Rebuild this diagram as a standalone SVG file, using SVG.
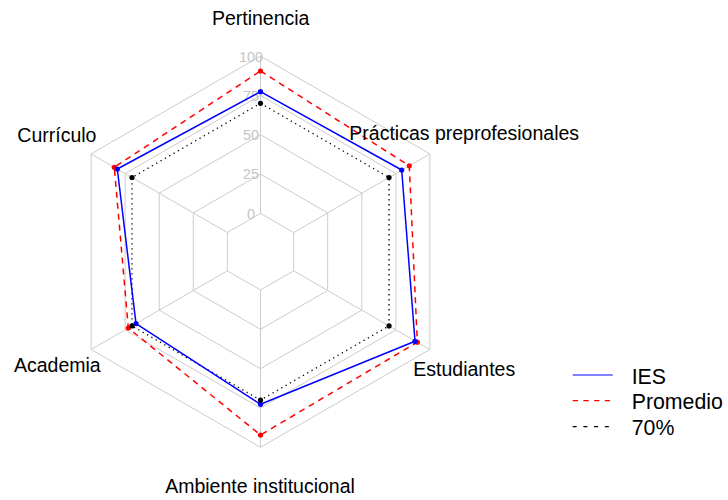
<svg xmlns="http://www.w3.org/2000/svg" width="728" height="500" viewBox="0 0 728 500">
<style>
.grid{fill:none;stroke:#cccccc;stroke-width:1}
.gl{font-family:"Liberation Sans",Arial,sans-serif;font-size:14.4px;fill:#c4c4c4;text-anchor:middle}
.ax{font-family:"Liberation Sans",Arial,sans-serif;font-size:19.5px;fill:#000}
.lg{font-family:"Liberation Sans",Arial,sans-serif;font-size:21.3px;fill:#000}
.ies{fill:none;stroke:#0000ff;stroke-width:1.5;stroke-linejoin:round}
.prom{fill:none;stroke:#ff0000;stroke-width:1.5;stroke-dasharray:6,5}
.p70{fill:none;stroke:#000;stroke-width:1.3;stroke-dasharray:1.3,3.7}
</style>
<rect width="728" height="500" fill="#ffffff"/>
<g id="grid">
<polygon class="grid" points="260.5,213.4 293.67,232.55 293.67,270.85 260.5,290 227.33,270.85 227.33,232.55"/>
<polygon class="grid" points="260.5,174.1 327.7,212.9 327.7,290.5 260.5,329.3 193.3,290.5 193.3,212.9"/>
<polygon class="grid" points="260.5,134.7 361.82,193.2 361.82,310.2 260.5,368.7 159.18,310.2 159.18,193.2"/>
<polygon class="grid" points="260.5,95.4 395.86,173.55 395.86,329.85 260.5,408 125.14,329.85 125.14,173.55"/>
<polygon class="grid" points="260.5,56.1 429.89,153.9 429.89,349.5 260.5,447.3 91.11,349.5 91.11,153.9"/>
<line class="grid" x1="260.5" y1="213.4" x2="260.5" y2="56.1"/>
<line class="grid" x1="293.67" y1="232.55" x2="429.89" y2="153.9"/>
<line class="grid" x1="293.67" y1="270.85" x2="429.89" y2="349.5"/>
<line class="grid" x1="260.5" y1="290" x2="260.5" y2="447.3"/>
<line class="grid" x1="227.33" y1="270.85" x2="91.11" y2="349.5"/>
<line class="grid" x1="227.33" y1="232.55" x2="91.11" y2="153.9"/>
<text class="gl" x="251" y="61.7">100</text>
<text class="gl" x="251" y="100.6">75</text>
<text class="gl" x="251" y="139.9">50</text>
<text class="gl" x="251" y="179.2">25</text>
<text class="gl" x="251" y="218.5">0</text>
</g>
<g id="connectors">
<polygon class="p70" points="260.5,103.29 389.03,177.5 389.03,325.9 260.5,400.11 131.97,325.9 131.97,177.5"/>
<polygon class="prom" points="260.5,71 409.3,165.8 417.3,342.2 260.5,435 128.3,328 114.3,167.3"/>
<polygon class="ies" points="260.5,91.7 401.7,170 415,341.3 260.5,404.3 136,323.6 117.3,169"/>
</g>
<g id="points-promedio" fill="#ff0000">
<circle cx="260.5" cy="71" r="2.6"/><circle cx="409.3" cy="165.8" r="2.6"/><circle cx="417.3" cy="342.2" r="2.6"/>
<circle cx="260.5" cy="435" r="2.6"/><circle cx="128.3" cy="328" r="2.6"/><circle cx="114.3" cy="167.3" r="2.6"/>
</g>
<g id="points-ies" fill="#0000ff">
<circle cx="260.5" cy="91.7" r="2.6"/><circle cx="401.7" cy="170" r="2.6"/><circle cx="415" cy="341.3" r="2.6"/>
<circle cx="260.5" cy="404.3" r="2.6"/><circle cx="136" cy="323.6" r="2.6"/><circle cx="117.3" cy="169" r="2.6"/>
</g>
<g id="points-70" fill="#000000">
<circle cx="260.5" cy="103.29" r="2.6"/><circle cx="389.03" cy="177.5" r="2.6"/><circle cx="389.03" cy="325.9" r="2.6"/>
<circle cx="260.5" cy="400.11" r="2.6"/><circle cx="131.97" cy="325.9" r="2.6"/><circle cx="131.97" cy="177.5" r="2.6"/>
</g>
<g id="axis-pertinencia"><text class="ax" x="260.7" y="25" text-anchor="middle">Pertinencia</text></g>
<g id="axis-practicas"><text class="ax" x="349.3" y="140">Prácticas preprofesionales</text></g>
<g id="axis-estudiantes"><text class="ax" x="413.3" y="376">Estudiantes</text></g>
<g id="axis-ambiente"><text class="ax" x="260" y="493.3" text-anchor="middle">Ambiente institucional</text></g>
<g id="axis-academia"><text class="ax" x="14" y="371.7">Academia</text></g>
<g id="axis-curriculo"><text class="ax" x="17.3" y="141.7">Currículo</text></g>
<g id="legend">
<line x1="572.7" y1="375" x2="612.7" y2="375" stroke="#0000ff" stroke-width="1.2"/>
<line x1="572.7" y1="400.7" x2="612.7" y2="400.7" stroke="#ff0000" stroke-width="1.2" stroke-dasharray="5.3,5.4"/>
<line x1="572.7" y1="426.7" x2="612.7" y2="426.7" stroke="#000000" stroke-width="1.2" stroke-dasharray="4,6.7"/>
<text class="lg" x="631.7" y="383.8">IES</text>
<text class="lg" x="631.7" y="409.3">Promedio</text>
<text class="lg" x="631.7" y="434.8">70%</text>
</g>
</svg>
